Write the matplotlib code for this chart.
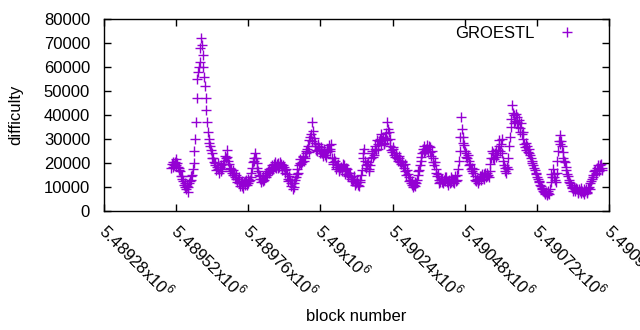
import numpy as np
import matplotlib
matplotlib.use("Agg")
import matplotlib.pyplot as plt

# === Data (difficulty in thousands) ===
# main samples every 5 blocks, plus in-between samples offset by 2.5 blocks
first_block = 5489503
block_step = 5
difficulty_k = [
    18.0, 20.5, 19.0, 21.5, 20.0, 17.0, 16.5, 13.5, 12.5, 10.0,
    9.0, 8.0, 11.5, 13.0, 15.0, 20.0, 30.0, 47.0, 58.0, 62.0,
    72.0, 65.0, 56.0, 47.0, 37.0, 30.0, 27.0, 24.0, 22.0, 19.0,
    17.0, 20.0, 16.0, 19.0, 17.5, 21.0, 23.0, 25.5, 21.0, 18.0,
    17.5, 15.0, 16.0, 13.5, 12.0, 14.0, 10.5, 12.5, 9.5, 11.0,
    13.0, 11.5, 12.5, 14.0, 18.0, 22.0, 24.0, 20.0, 16.5, 13.5,
    12.0, 14.5, 13.0, 16.0, 15.0, 17.5, 16.5, 19.0, 17.5, 20.5,
    18.0, 20.0, 18.5, 19.5, 17.0, 18.5, 16.0, 15.5, 12.5, 13.0,
    10.5, 9.0, 11.5, 14.0, 17.5, 19.0, 21.5, 20.5, 23.0, 22.0,
    25.0, 27.0, 29.5, 32.0, 37.0, 30.5, 27.0, 25.0, 28.0, 24.0,
    25.5, 23.0, 26.0, 22.5, 24.5, 27.5, 26.0, 22.0, 19.5, 21.0,
    17.5, 19.5, 16.5, 18.5, 17.0, 19.0, 15.5, 17.5, 14.5, 16.0,
    14.0, 12.5, 13.5, 11.5, 12.0, 10.5, 13.0, 17.0, 24.0, 21.0,
    18.0, 20.5, 16.5, 22.0, 25.0, 23.5, 27.0, 29.5, 26.0, 30.0,
    27.5, 31.0, 28.0, 32.5, 37.0, 33.0, 27.0, 24.5, 26.0, 22.5,
    23.5, 21.0, 22.0, 19.5, 20.5, 18.0, 16.5, 17.0, 14.0, 13.0,
    11.0, 10.0, 12.0, 11.5, 15.0, 17.0, 21.0, 24.0, 27.0, 25.0,
    27.5, 24.5, 26.5, 23.0, 22.0, 19.0, 17.5, 14.5, 13.0, 12.0,
    13.5, 11.5, 12.5, 14.0, 11.0, 13.0, 12.0, 13.5, 11.5, 14.5,
    13.0, 17.5, 25.0, 39.0, 31.0, 27.5, 24.0, 22.0, 21.0, 19.5,
    18.0, 16.0, 14.5, 12.5, 11.5, 13.0, 14.5, 15.5, 13.5, 16.0,
    14.5, 15.0, 16.5, 22.0, 24.0, 21.5, 25.5, 23.5, 27.0, 25.0,
    30.0, 21.0, 18.0, 16.0, 17.5, 27.0, 35.0, 44.0, 40.0, 37.5,
    39.0, 35.0, 33.0, 36.5, 30.0, 28.0, 25.5, 27.0, 26.0, 23.5,
    21.0, 19.0, 17.0, 15.5, 13.5, 12.0, 10.5, 9.0, 8.0, 7.0,
    6.5, 8.5, 9.0, 15.5, 17.5, 14.0, 12.0, 21.0, 29.0, 31.5,
    27.0, 22.0, 20.5, 17.0, 14.5, 12.0, 11.0, 9.5, 10.0, 8.5,
    9.0, 7.5, 8.5, 9.5, 8.0, 7.0, 9.0, 8.0, 10.0, 11.5,
    13.5, 15.0, 17.0, 16.0, 19.0, 17.5, 19.5, 18.0,
]
difficulty_k_mid = [
    19.5, 18.5, 20.5, 19.0, 18.5, 18.0, 14.5, 14.5, 11.0, 11.5,
    10.5, 10.0, 12.5, 14.5, 17.5, 25.0, 37.0, 55.0, 60.0, 68.0,
    69.0, 60.0, 52.0, 42.0, 33.0, 28.5, 25.5, 22.0, 20.5, 20.0,
    18.5, 17.5, 18.5, 16.5, 19.5, 19.5, 22.0, 22.5, 19.5, 16.5,
    16.0, 17.0, 14.0, 15.0, 13.5, 11.5, 12.0, 10.5, 12.0, 12.5,
    11.0, 13.5, 13.0, 16.0, 20.5, 21.0, 22.0, 18.0, 15.0, 14.5,
    13.5, 12.5, 15.0, 14.0, 16.5, 16.0, 18.0, 17.0, 19.5, 18.5,
    19.5, 18.0, 20.5, 18.0, 19.0, 17.0, 17.5, 13.5, 14.5, 11.5,
    11.5, 10.0, 13.0, 15.5, 16.0, 20.0, 19.5, 22.5, 21.0, 24.0,
    26.0, 24.5, 31.0, 29.0, 33.5, 28.5, 25.5, 27.0, 26.0, 26.5,
    24.0, 25.0, 23.5, 25.5, 26.0, 25.0, 28.0, 20.5, 22.0, 18.5,
    19.0, 17.5, 18.0, 16.5, 19.5, 17.0, 18.0, 15.0, 16.0, 13.5,
    12.5, 14.5, 11.0, 13.0, 11.0, 12.0, 15.0, 22.0, 26.0, 19.0,
    19.5, 17.5, 19.0, 24.0, 22.5, 26.0, 25.5, 28.0, 29.0, 32.0,
    29.5, 28.5, 30.5, 29.5, 34.0, 30.0, 25.5, 26.5, 23.5, 24.0,
    22.0, 23.0, 20.5, 21.0, 19.0, 19.5, 15.0, 15.5, 12.5, 11.5,
    12.5, 11.0, 10.5, 13.0, 16.5, 19.0, 22.5, 26.0, 24.5, 26.0,
    26.0, 27.0, 24.5, 25.0, 20.5, 20.5, 16.0, 15.5, 11.5, 13.5,
    12.0, 13.0, 14.0, 12.0, 12.5, 11.5, 14.0, 12.0, 13.0, 12.5,
    15.0, 21.0, 31.0, 34.0, 28.5, 25.0, 22.5, 23.5, 19.0, 17.5,
    16.5, 17.5, 13.0, 13.5, 12.5, 14.5, 13.0, 14.0, 15.5, 14.0,
    16.0, 14.0, 19.5, 25.0, 22.0, 24.0, 22.5, 25.5, 29.5, 28.0,
    24.0, 19.0, 16.5, 18.5, 22.0, 31.0, 38.5, 41.0, 36.5, 40.5,
    37.0, 38.0, 34.5, 32.0, 33.0, 26.5, 28.5, 24.5, 24.0, 22.0,
    20.0, 18.0, 16.0, 14.0, 12.5, 11.0, 9.5, 8.5, 7.5, 8.0,
    7.5, 7.0, 12.0, 14.0, 15.5, 13.0, 16.0, 25.0, 28.0, 29.0,
    24.5, 21.0, 18.5, 15.5, 13.0, 11.5, 10.0, 8.5, 9.0, 9.5,
    8.0, 9.0, 7.5, 8.5, 9.0, 8.5, 7.5, 9.5, 9.0, 12.5,
    14.0, 16.5, 15.5, 18.0, 16.5, 19.0, 17.0,
]
x_ticks = [5489280, 5489520, 5489760, 5490000, 5490240, 5490480, 5490720, 5490960]
x_tick_labels = ["5.48928", "5.48952", "5.48976", "5.49", "5.49024",
                 "5.49048", "5.49072", "5.49096"]
y_ticks = [0, 10000, 20000, 30000, 40000, 50000, 60000, 70000, 80000]

blocks_a = first_block + block_step * np.arange(len(difficulty_k))
blocks_b = first_block + block_step / 2 + block_step * np.arange(len(difficulty_k_mid))
blocks = np.concatenate([blocks_a, blocks_b])
difficulty = np.concatenate([difficulty_k, difficulty_k_mid]) * 1000

# === Styling ===
plt.rcParams.update({
    "font.family": "Liberation Sans",
    "mathtext.fontset": "custom",
    "mathtext.rm": "Liberation Sans",
    "font.size": 12,
})

fig = plt.figure(figsize=(6.4, 3.3), dpi=100)
ax = fig.add_axes([104 / 640, 1 - 211 / 330, 505 / 640, 192 / 330])

ax.plot(blocks, difficulty, linestyle="none", marker="+", markersize=7,
        markeredgewidth=1.0, color="#9400d3", label="GROESTL")

ax.set_xlim(x_ticks[0], x_ticks[-1])
ax.set_ylim(0, 80000)
ax.set_yticks(y_ticks)
ax.set_yticklabels([str(v) for v in y_ticks])
ax.set_xticks(x_ticks)
ax.set_xticklabels([s + r"x10$^{6}$" for s in x_tick_labels], rotation=-45,
                   ha="left", va="center_baseline", rotation_mode="anchor")

ax.tick_params(direction="in", length=5, width=1, top=True, right=True,
               labelsize=12)
ax.tick_params(axis="y", pad=10)
ax.tick_params(axis="x", pad=11)
for sp in ax.spines.values():
    sp.set_linewidth(1)

ax.set_ylabel("difficulty")
ax.set_xlabel("block number")
ax.xaxis.set_label_coords(0.5, -0.51)
ax.yaxis.set_label_coords(-0.160, 0.5)

ax.legend(loc="upper right", markerfirst=False, frameon=False,
          handlelength=1.5, handletextpad=1.2, borderaxespad=0.2,
          bbox_to_anchor=(0.961, 1.015))

fig.savefig("out.png", dpi=100)
